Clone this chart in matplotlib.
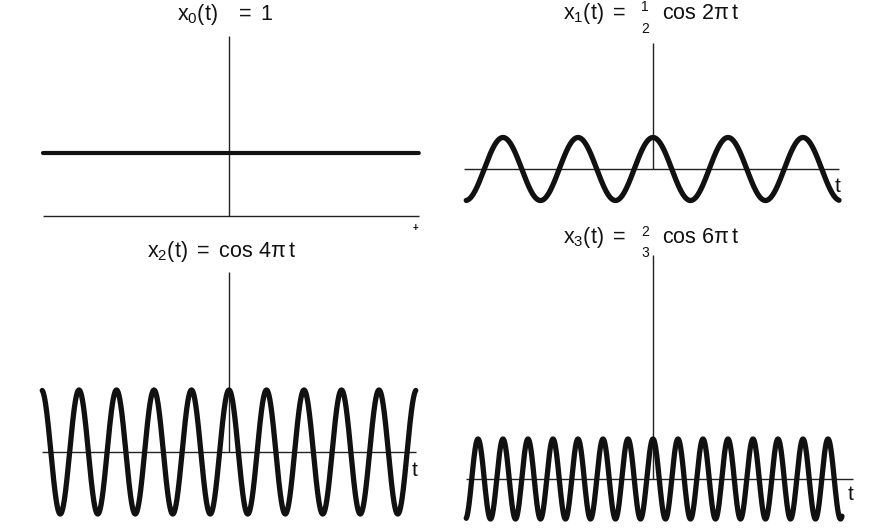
import numpy as np
import matplotlib
matplotlib.use("Agg")
import matplotlib.pyplot as plt

plt.rcParams['font.family'] = ['Liberation Sans', 'DejaVu Sans']
plt.rcParams['mathtext.fontset'] = 'custom'
plt.rcParams['mathtext.rm'] = 'Liberation Sans'
plt.rcParams['mathtext.it'] = 'Liberation Sans'
plt.rcParams['mathtext.bf'] = 'Liberation Sans:bold'

# ---- data ----
title_left = [r"$\mathrm{x_0(t)\ \ \ =\ 1}$",
              r"$\mathrm{x_1(t)\ =}$",
              r"$\mathrm{x_2(t)\ =\ cos\ 4\pi\, t}$",
              r"$\mathrm{x_3(t)\ =}$"]
frac_num = [None, "1", None, "2"]
frac_den = [None, "2", None, "3"]
title_right = [None, r"$\mathrm{cos\ 2\pi\, t}$", None, r"$\mathrm{cos\ 6\pi\, t}$"]
amplitudes = [1.0, 0.5, 1.0, 2.0 / 3.0]
harmonics = [0, 1, 2, 3]
curve_t_ranges = [(-2.48, 2.53), (-2.49, 2.48), (-2.49, 2.49), (-2.49, 2.52)]
axis_t_ranges = [(-2.48, 2.53), (-2.52, 2.48), (-2.49, 2.49), (-2.49, 2.67)]
vaxis_tops = [2.86, 2.0, 2.9, 3.73]

# ---- layout (pixels) ----
W, H = 872, 531
origins = [(229, 216), (653, 169), (229, 452), (653, 479)]
xscale = 75.0
yscales = [63.0, 63.0, 62.0, 60.0]
# (left/center x, baseline y) of the main title text
title_pos = [(225, 20), (563, 19), (221, 257), (563, 243)]
frac_pos = [None, (645, 11, 33), None, (645, 236, 257)]   # x, num baseline, den baseline
right_pos = [None, (662, 19), None, (662, 243)]
tlabel_pos = [None, (838, 187), (415, 470), (851, 495)]

fig = plt.figure(figsize=(W / 100, H / 100), dpi=100)
FS = 15.5
col = '#111111'

def px(x, y):
    return x / W, 1 - y / H

for i in range(4):
    x0, y0 = origins[i]
    ys = yscales[i]
    tmin, tmax = -2.7, 2.8
    ymin, ymax = -1.2, 4.0
    left = (x0 + tmin * xscale) / W
    width = (tmax - tmin) * xscale / W
    bottom = (H - (y0 - ymin * ys)) / H
    height = (ymax - ymin) * ys / H
    ax = fig.add_axes([left, bottom, width, height])
    ax.set_xlim(tmin, tmax)
    ax.set_ylim(ymin, ymax)
    ax.axis('off')
    ax.patch.set_alpha(0)

    # axes lines
    a0, a1 = axis_t_ranges[i]
    ax.plot([a0, a1], [0, 0], color='#222222', lw=1.0, solid_capstyle='butt')
    ax.plot([0, 0], [0, vaxis_tops[i]], color='#222222', lw=1.0, solid_capstyle='butt')

    # signal
    c0, c1 = curve_t_ranges[i]
    t = np.linspace(c0, c1, 2000)
    x = amplitudes[i] * np.cos(2 * np.pi * harmonics[i] * t)
    ax.plot(t, x, color=col, lw=3.8 if i else 3.0, solid_capstyle='round')

    tx, ty = title_pos[i]
    if frac_num[i] is None:
        fig.text(*px(tx, ty), title_left[i], ha='center', va='baseline',
                 fontsize=FS, color=col)
    else:
        fig.text(*px(tx, ty), title_left[i], ha='left', va='baseline',
                 fontsize=FS, color=col)
        fx, fny, fdy = frac_pos[i]
        fig.text(*px(fx, fny), frac_num[i], ha='center', va='baseline',
                 fontsize=10, color=col)
        fig.text(*px(fx, fdy), frac_den[i], ha='center', va='baseline',
                 fontsize=10, color=col)
        rx, ry = right_pos[i]
        fig.text(*px(rx, ry), title_right[i], ha='left', va='baseline',
                 fontsize=FS, color=col)
    if tlabel_pos[i] is not None:
        lx, ly = tlabel_pos[i]
        fig.text(*px(lx, ly), "t", ha='center', va='center',
                 fontsize=15, color=col)

fig.text(*px(415, 228), "+", ha='center', va='center', fontsize=7,
         fontweight='bold', color=col)

fig.savefig("out.png", dpi=100, facecolor='white')
